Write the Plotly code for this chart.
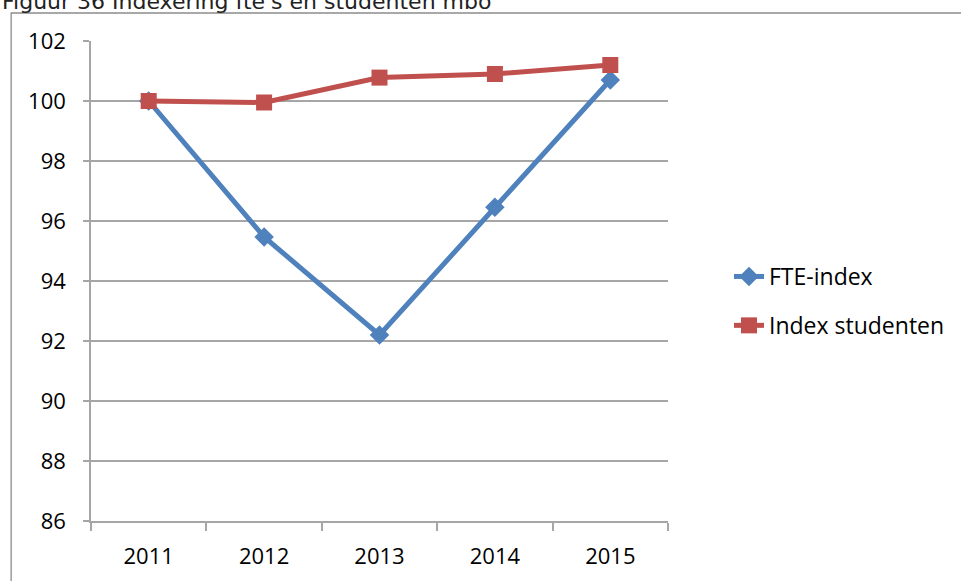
import plotly.graph_objects as go

# Index values per year (2011 = 100)
years = ["2011", "2012", "2013", "2014", "2015"]
fte_index = [100.0, 95.47, 92.2, 96.46, 100.7]
student_index = [100.0, 99.95, 100.78, 100.9, 101.2]
y_ticks = [86, 88, 90, 92, 94, 96, 98, 100, 102]

W, H = 961, 581
L, R, T, B = 91, 292, 41, 60
plot_w = W - L - R
plot_h = H - T - B

BLUE = "#4F81BD"
RED = "#C0504D"
GRID = "#A6A6A6"
FONT = "Open Sans"

fig = go.Figure()
fig.add_trace(go.Scatter(
    x=years, y=fte_index, name="FTE-index", mode="lines+markers",
    line=dict(color=BLUE, width=5),
    marker=dict(symbol="diamond", size=15, color=BLUE),
    legendgroup="a",
))
fig.add_trace(go.Scatter(
    x=years, y=student_index, name="Index studenten", mode="lines+markers",
    line=dict(color=RED, width=5),
    marker=dict(symbol="square", size=16, color=RED),
    legendgroup="b",
))


def px_x(p):
    return (p - L) / plot_w


def px_y(p):
    return 1 + (T - p) / plot_h


# outer chart frame
fig.add_shape(type="rect", xref="paper", yref="paper",
              x0=px_x(11), x1=px_x(990), y0=px_y(13), y1=px_y(620),
              line=dict(color="#8C8C8C", width=1.3), layer="below")

# caption above the chart
fig.add_annotation(
    text="Figuur 36 Indexering fte's en studenten mbo",
    xref="paper", yref="paper", x=px_x(0), y=px_y(1.5),
    xanchor="left", yanchor="middle", showarrow=False,
    font=dict(family="DejaVu Sans", size=22, color="#222222"),
)

fig.update_layout(
    width=W, height=H,
    margin=dict(l=L, r=R, t=T, b=B, pad=0),
    paper_bgcolor="white", plot_bgcolor="white",
    font=dict(family=FONT, size=22, color="#000000"),
    showlegend=True,
    legend=dict(
        x=px_x(729), y=px_y(255), xanchor="left", yanchor="top",
        font=dict(family=FONT, size=23, color="#000000"),
        tracegroupgap=16, bgcolor="rgba(0,0,0,0)",
    ),
    xaxis=dict(
        type="category", tickson="boundaries",
        showgrid=False, showline=True, linecolor=GRID, linewidth=1.5,
        ticks="outside", ticklen=8, tickcolor=GRID, tickwidth=1.5,
        ticklabelstandoff=15, range=[-0.5, 4.5],
        tickfont=dict(family=FONT, size=22),
    ),
    yaxis=dict(
        range=[86, 102], tickvals=y_ticks, ticktext=[str(v) for v in y_ticks],
        showgrid=True, gridcolor=GRID, gridwidth=1.5,
        showline=True, linecolor=GRID, linewidth=1.5,
        ticks="outside", ticklen=6, tickcolor=GRID, tickwidth=1.5,
        ticklabelstandoff=13, zeroline=False,
        tickfont=dict(family=FONT, size=22),
    ),
)

fig.write_html("out.html")
